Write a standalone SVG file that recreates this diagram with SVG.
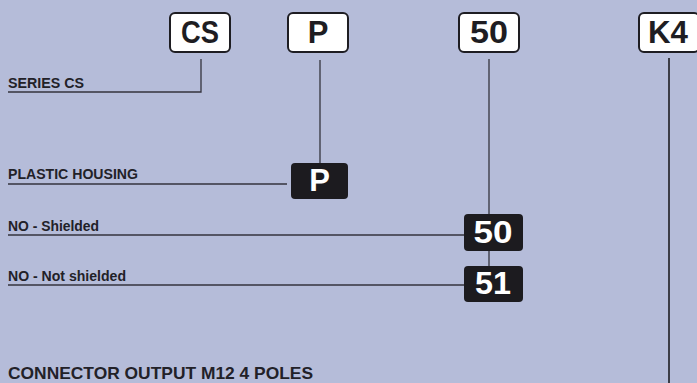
<svg xmlns="http://www.w3.org/2000/svg" width="697" height="383" viewBox="0 0 697 383">
<style>
.bg{fill:#b5bcd9}
.code{fill:#fff;stroke:#1e1d22;stroke-width:2}
.dark{fill:#1c1b1f}
.ct{font-family:"Liberation Sans",Arial,sans-serif;font-weight:bold;font-size:31px;text-anchor:middle;fill:#1e1d22}
.cw{font-family:"Liberation Sans",Arial,sans-serif;font-weight:bold;font-size:31px;text-anchor:middle;fill:#fff}
.lbl{font-family:"Liberation Sans",Arial,sans-serif;font-weight:bold;font-size:14px;fill:#222128}
.big{font-family:"Liberation Sans",Arial,sans-serif;font-weight:bold;font-size:16.5px;fill:#222128}
.ln{stroke:#34333d;stroke-width:1.3;fill:none}
</style>
<rect class="bg" x="0" y="0" width="697" height="383"/>
<g id="connectors">
<polyline class="ln" points="201,59 201,92 8,92"/>
<line class="ln" x1="320" y1="60" x2="320" y2="163"/>
<line class="ln" x1="489" y1="59" x2="489" y2="214"/>
<line class="ln" x1="489" y1="251" x2="489" y2="266"/>
<line class="ln" x1="669" y1="58" x2="669" y2="383" style="stroke-width:1.6;stroke:#1e1d22"/>
<line class="ln" x1="8" y1="184" x2="287" y2="184"/>
<line class="ln" x1="8" y1="235" x2="464" y2="235"/>
<line class="ln" x1="8" y1="285" x2="464" y2="285"/>
</g>
<g id="code-cs">
<rect class="code" x="170" y="13" width="60" height="39" rx="5"/>
<text class="ct" x="200" y="43" textLength="38" lengthAdjust="spacingAndGlyphs">CS</text>
</g>
<g id="code-p">
<rect class="code" x="288" y="13" width="60" height="39" rx="5"/>
<text class="ct" x="318" y="43">P</text>
</g>
<g id="code-50">
<rect class="code" x="459" y="13" width="60" height="39" rx="5"/>
<text class="ct" x="489" y="43" textLength="38" lengthAdjust="spacingAndGlyphs">50</text>
</g>
<g id="code-k4">
<rect class="code" x="639" y="13" width="60" height="39" rx="5"/>
<text class="ct" x="668" y="43" textLength="40" lengthAdjust="spacingAndGlyphs">K4</text>
</g>
<g id="label-series">
<text class="lbl" x="8" y="88" textLength="76" lengthAdjust="spacingAndGlyphs">SERIES CS</text>
</g>
<g id="label-plastic">
<text class="lbl" x="8" y="179" textLength="130" lengthAdjust="spacingAndGlyphs">PLASTIC HOUSING</text>
</g>
<g id="opt-p">
<rect class="dark" x="291" y="163" width="57" height="36" rx="4"/>
<text class="cw" x="319.5" y="191">P</text>
</g>
<g id="label-shielded">
<text class="lbl" x="8" y="230.5" textLength="91" lengthAdjust="spacingAndGlyphs">NO - Shielded</text>
</g>
<g id="opt-50">
<rect class="dark" x="464" y="214" width="59" height="37" rx="4"/>
<text class="cw" x="493" y="242.5" textLength="39" lengthAdjust="spacingAndGlyphs">50</text>
</g>
<g id="label-notshielded">
<text class="lbl" x="8" y="281" textLength="118" lengthAdjust="spacingAndGlyphs">NO - Not shielded</text>
</g>
<g id="opt-51">
<rect class="dark" x="464" y="266" width="59" height="36" rx="4"/>
<text class="cw" x="493" y="293.5" textLength="36" lengthAdjust="spacingAndGlyphs">51</text>
</g>
<g id="label-connector">
<text class="big" x="8" y="379" textLength="305" lengthAdjust="spacingAndGlyphs">CONNECTOR OUTPUT M12 4 POLES</text>
</g>
</svg>
